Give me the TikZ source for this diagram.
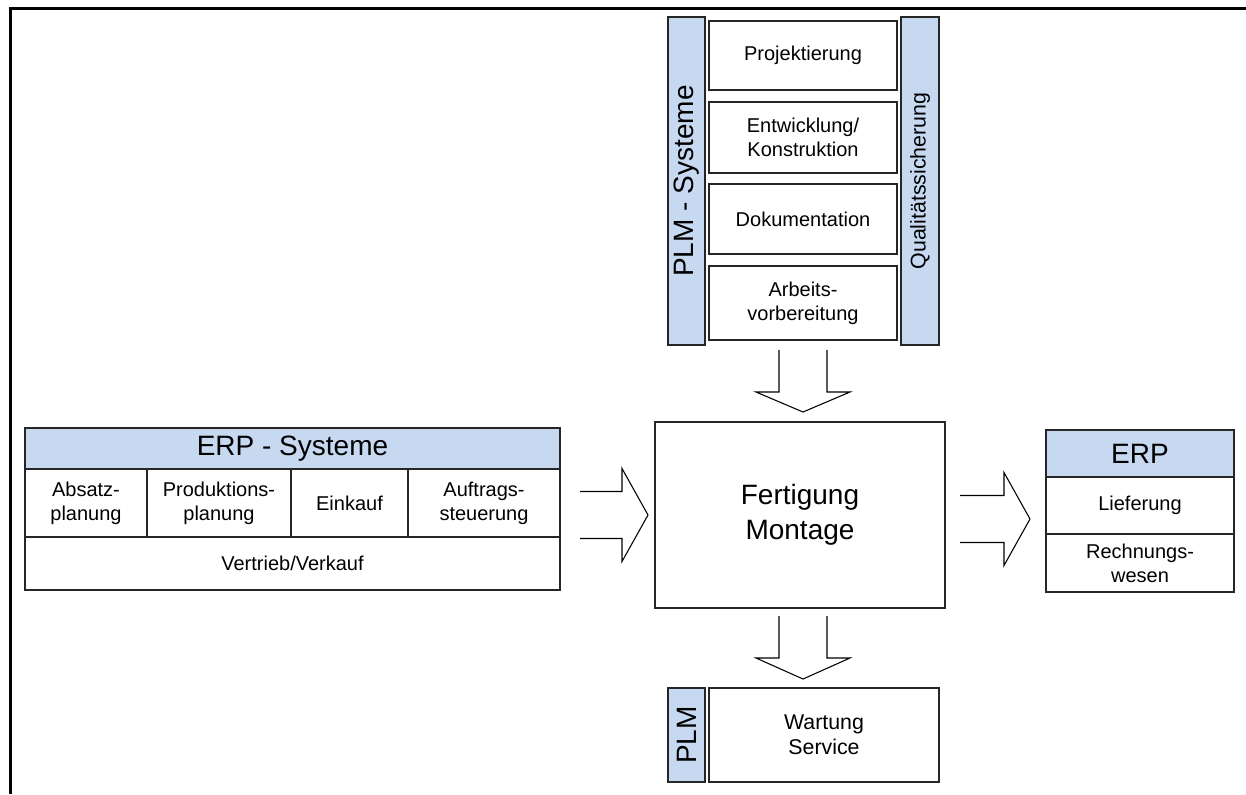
\documentclass[tikz,border=0pt]{standalone}
\usepackage{fontspec}
\setmainfont{Liberation Sans}
\definecolor{plmblue}{RGB}{198,217,240}
\newcommand{\pxu}{0.75pt}
\begin{document}
\begin{tikzpicture}[x=0.75pt,y=-0.75pt,
  box/.style={draw=black!85,line width=1.1pt,fill=white,align=center,inner sep=0pt,font=\fontsize{15}{18}\selectfont},
  head/.style={box,fill=plmblue,font=\fontsize{21}{25}\selectfont},
  big/.style={font=\fontsize{21}{26}\selectfont},
  mid/.style={font=\fontsize{16}{19}\selectfont},
  hollow/.style={draw=black,line width=0.8pt,line join=miter}]
\useasboundingbox (0,0) rectangle (1246,794);
\draw[line width=2.25pt] (10,794) -- (10,8) -- (1246,8);
\node[head,rotate=90,minimum width=328*\pxu,minimum height=37*\pxu] (plm) at (686.5,181) {PLM - Systeme};
\node[box,mid,fill=plmblue,rotate=90,minimum width=328*\pxu,minimum height=38*\pxu] (qs) at (920,181) {Qualitätssicherung};
\node[box,minimum width=188*\pxu,minimum height=69*\pxu] (p1) at (803,55.5) {Projektierung};
\node[box,minimum width=188*\pxu,minimum height=71*\pxu] (p2) at (803,137.5) {Entwicklung/\\Konstruktion};
\node[box,minimum width=188*\pxu,minimum height=70*\pxu] (p3) at (803,219) {Dokumentation};
\node[box,minimum width=188*\pxu,minimum height=74*\pxu] (p4) at (803,303) {Arbeits-\\vorbereitung};
\node[box,big,minimum width=290*\pxu,minimum height=186*\pxu] (fm) at (800,515) {Fertigung\\Montage};
\node[head,minimum width=535*\pxu,minimum height=41*\pxu] (erp) at (292.5,448.5) {ERP - Systeme};
\node[box,minimum width=122*\pxu,minimum height=68*\pxu] (e1) at (86,503) {Absatz-\\planung};
\node[box,minimum width=144*\pxu,minimum height=68*\pxu] (e2) at (219,503) {Produktions-\\planung};
\node[box,minimum width=117*\pxu,minimum height=68*\pxu] (e3) at (349.5,503) {Einkauf};
\node[box,minimum width=152*\pxu,minimum height=68*\pxu] (e4) at (484,503) {Auftrags-\\steuerung};
\node[box,minimum width=535*\pxu,minimum height=53*\pxu] (vv) at (292.5,563.5) {Vertrieb/Verkauf};
\node[head,minimum width=188*\pxu,minimum height=47*\pxu] (erp2) at (1140,453.5) {ERP};
\node[box,minimum width=188*\pxu,minimum height=57*\pxu] (lf) at (1140,505.5) {Lieferung};
\node[box,minimum width=188*\pxu,minimum height=58*\pxu] (rw) at (1140,563) {Rechnungs-\\wesen};
\node[head,rotate=90,minimum width=94*\pxu,minimum height=37*\pxu] (plm2) at (686.5,735) {PLM};
\node[box,mid,minimum width=230*\pxu,minimum height=94*\pxu] (ws) at (824,735) {Wartung\\Service};
\coordinate (d1) at (803,350);
\coordinate (d2) at (803,616);
\coordinate (r1) at (580,515);
\coordinate (r2) at (960,519);
\draw[hollow] (d1) ++(-24,0) -- ++(0,42) -- ++(-23,0) -- ++(47,20) -- ++(47,-20) -- ++(-23,0) -- ++(0,-42);
\draw[hollow] (d2) ++(-24,0) -- ++(0,42) -- ++(-23,0) -- ++(47,21) -- ++(47,-21) -- ++(-23,0) -- ++(0,-42);
\draw[hollow] (r1) ++(0,-23.5) -- ++(42,0) -- ++(0,-23) -- ++(26,46.5) -- ++(-26,46.5) -- ++(0,-23) -- ++(-42,0);
\draw[hollow] (r2) ++(0,-23.5) -- ++(44,0) -- ++(0,-23) -- ++(26,46.5) -- ++(-26,46.5) -- ++(0,-23) -- ++(-44,0);
\end{tikzpicture}
\end{document}
